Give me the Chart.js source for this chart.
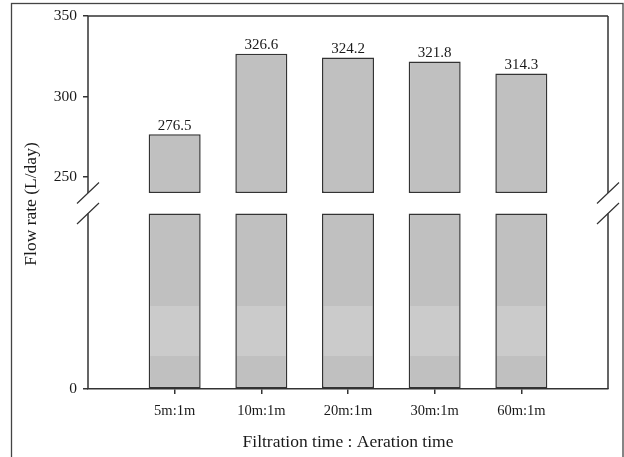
<!DOCTYPE html>
<html>
<head>
<meta charset="utf-8">
<script src="https://cdn.jsdelivr.net/npm/chart.js@4.4.1/dist/chart.umd.min.js"></script>
<style>
  html, body { margin: 0; padding: 0; background: #fff; }
  canvas { display: block; }
</style>
</head>
<body>
<canvas id="flowChart" width="624" height="457"></canvas>
<script>
// Flow rate per filtration/aeration cycle
const categories = ['5m:1m', '10m:1m', '20m:1m', '30m:1m', '60m:1m'];
const flowRates = [276.5, 326.6, 324.2, 321.8, 314.3];
const upperTicks = [250, 300, 350];
const lowerTicks = [0];
const axisBreak = 240;          // value where the y axis is broken
const lowerBand = [45, 113];    // lighter shading inside the lower bar segments

const SERIF = "'Liberation Serif', 'Times New Roman', serif";
const INK = '#1a1a1a';
const LINE = '#333';
const BAR_FILL = '#c0c0c0';
const BAND_FILL = '#cbcbcb';

// upper segments float from the break up to each value
const upperData = flowRates.map((v, i) => ({ x: i + 1, y: [axisBreak, v] }));
// lower segments run from zero up to the break
const lowerData = flowRates.map((v, i) => ({ x: i + 1, y: Math.min(v, axisBreak) }));

function lowerFill(ctx) {
  const chart = ctx.chart;
  const s = chart.scales.yBottom;
  if (!chart.chartArea || !s) return BAR_FILL;
  const y0 = s.getPixelForValue(0);
  const y1 = s.getPixelForValue(axisBreak);
  const g = chart.ctx.createLinearGradient(0, y0, 0, y1);
  const f1 = lowerBand[0] / axisBreak;
  const f2 = lowerBand[1] / axisBreak;
  g.addColorStop(0, BAR_FILL);
  g.addColorStop(f1, BAR_FILL);
  g.addColorStop(f1, BAND_FILL);
  g.addColorStop(f2, BAND_FILL);
  g.addColorStop(f2, BAR_FILL);
  g.addColorStop(1, BAR_FILL);
  return g;
}

// frame, broken-axis marks, value labels and the y title
const decorations = {
  id: 'decorations',
  beforeDraw(chart) {
    const { ctx } = chart;
    ctx.save();
    ctx.strokeStyle = '#444';
    ctx.lineWidth = 1.3;
    ctx.strokeRect(11.5, 3.5, 611.5, 470);
    ctx.restore();
  },
  afterDraw(chart) {
    const { ctx, chartArea: a } = chart;
    const yTop = chart.scales.yTop;
    const yBottom = chart.scales.yBottom;
    const gapTop = yTop.getPixelForValue(axisBreak);
    const gapBottom = yBottom.getPixelForValue(axisBreak);

    ctx.save();
    ctx.strokeStyle = LINE;
    ctx.lineWidth = 1.5;
    ctx.beginPath();
    // top edge
    ctx.moveTo(a.left, a.top);
    ctx.lineTo(a.right, a.top);
    // left and right edges, interrupted at the break
    [a.left, a.right].forEach(x => {
      ctx.moveTo(x, a.top);
      ctx.lineTo(x, gapTop);
      ctx.moveTo(x, gapBottom);
      ctx.lineTo(x, a.bottom);
    });
    ctx.stroke();

    // break slashes
    ctx.lineWidth = 1.2;
    ctx.beginPath();
    [a.left, a.right].forEach(x => {
      [gapTop, gapBottom].forEach(y => {
        ctx.moveTo(x - 11, y + 10.5);
        ctx.lineTo(x + 11, y - 10.5);
      });
    });
    ctx.stroke();

    // value labels above the bars
    ctx.fillStyle = INK;
    ctx.font = '15px ' + SERIF;
    ctx.textAlign = 'center';
    ctx.textBaseline = 'alphabetic';
    const meta = chart.getDatasetMeta(0);
    meta.data.forEach((el, i) => {
      ctx.fillText(flowRates[i].toFixed(1), el.x, el.y - 4.5);
    });

    // y axis title spanning both segments
    ctx.translate(31, 204);
    ctx.rotate(-Math.PI / 2);
    ctx.font = '17.5px ' + SERIF;
    ctx.textBaseline = 'middle';
    ctx.fillText('Flow rate (L/day)', 0, 0);
    ctx.restore();
  }
};

const tickGrid = {
  display: true,
  drawOnChartArea: false,
  drawTicks: true,
  tickLength: 5,
  color: LINE,
  lineWidth: 1.5,
  offset: false
};

new Chart(document.getElementById('flowChart'), {
  type: 'bar',
  data: {
    datasets: [
      {
        label: 'upper',
        data: upperData,
        yAxisID: 'yTop',
        backgroundColor: BAR_FILL,
        borderColor: LINE,
        borderWidth: 1.5,
        borderSkipped: false,
        grouped: false,
        barPercentage: 0.6,
        categoryPercentage: 1
      },
      {
        label: 'lower',
        data: lowerData,
        yAxisID: 'yBottom',
        backgroundColor: lowerFill,
        borderColor: LINE,
        borderWidth: 1.5,
        borderSkipped: false,
        grouped: false,
        barPercentage: 0.6,
        categoryPercentage: 1
      }
    ]
  },
  options: {
    responsive: false,
    animation: false,
    devicePixelRatio: 1,
    layout: { padding: { top: 16, right: 16, left: 0, bottom: 0 } },
    plugins: { legend: { display: false }, tooltip: { enabled: false } },
    scales: {
      x: {
        type: 'linear',
        offset: false,
        min: 0,
        max: categories.length + 1,
        afterBuildTicks: s => { s.ticks = categories.map((c, i) => ({ value: i + 1 })); },
        afterFit: s => { s.height = 68; },
        ticks: {
          callback: v => categories[v - 1],
          font: { family: SERIF, size: 14.5 },
          color: INK,
          padding: 8.5,
          maxRotation: 0,
          autoSkip: false
        },
        grid: tickGrid,
        border: { display: true, color: LINE, width: 1.5 },
        title: {
          display: true,
          text: 'Filtration time : Aeration time',
          font: { family: SERIF, size: 17.5 },
          color: INK,
          padding: { top: 0, bottom: 4.5 }
        }
      },
      yTop: {
        type: 'linear',
        position: 'left',
        stack: 'flow',
        stackWeight: 177,
        weight: 2,
        min: axisBreak,
        max: 350,
        afterBuildTicks: s => { s.ticks = upperTicks.map(v => ({ value: v })); },
        afterFit: s => { s.width = 88; },
        ticks: { font: { family: SERIF, size: 15.5 }, color: INK, padding: 6 },
        grid: tickGrid,
        border: { display: false }
      },
      yBottom: {
        type: 'linear',
        position: 'left',
        stack: 'flow',
        stackWeight: 196,
        weight: 1,
        min: 0,
        max: 268,   // headroom above the break leaves the gap of the broken axis
        afterBuildTicks: s => { s.ticks = lowerTicks.map(v => ({ value: v })); },
        afterFit: s => { s.width = 88; },
        ticks: { font: { family: SERIF, size: 15.5 }, color: INK, padding: 6 },
        grid: tickGrid,
        border: { display: false }
      }
    }
  },
  plugins: [decorations]
});
</script>
</body>
</html>
